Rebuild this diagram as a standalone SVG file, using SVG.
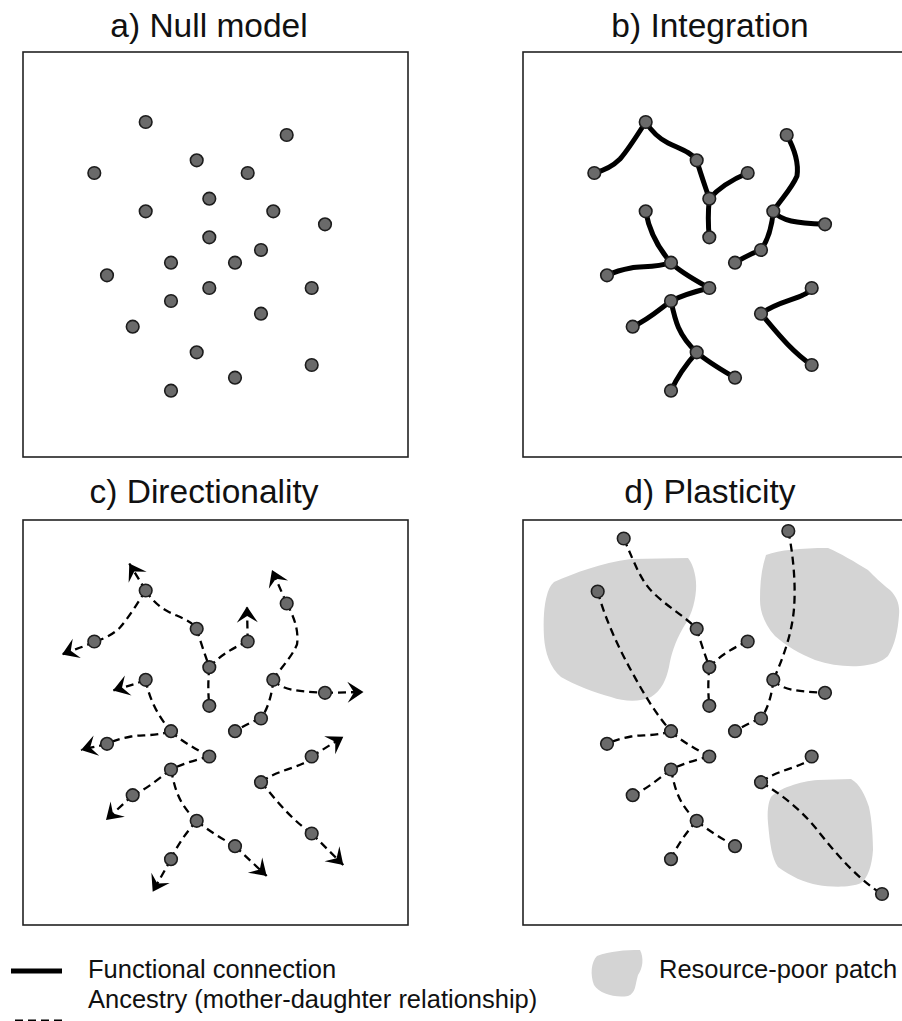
<svg xmlns="http://www.w3.org/2000/svg" width="902" height="1021" viewBox="0 0 902 1021">
<style>
.title{font-family:"Liberation Sans",Arial,sans-serif;font-size:33.5px;fill:#111;text-anchor:middle}
.leg{font-family:"Liberation Sans",Arial,sans-serif;font-size:25.5px;fill:#111}
.box{fill:none;stroke:#222;stroke-width:1.6}
.n{fill:#6a6a6a;stroke:#1c1c1c;stroke-width:1.6}
.fc{fill:none;stroke:#000;stroke-width:5;stroke-linecap:round;stroke-linejoin:round}
.an{fill:none;stroke:#000;stroke-width:2.3;stroke-dasharray:8 5}
.ar{marker-end:url(#arr)}
.patch{fill:#d4d4d4}
</style>
<defs>
<marker id="arr" markerUnits="userSpaceOnUse" markerWidth="24" markerHeight="24" viewBox="-19 -12 22 24" refX="0" refY="0" orient="auto">
<path d="M0,0 L-16,-10.5 L-9.5,0 L-16,10.5 Z" fill="#000"/>
</marker>
</defs>
<rect width="902" height="1021" fill="#fff"/>

<!-- Titles -->
<text class="title" x="209" y="37">a) Null model</text>
<text class="title" x="710" y="37">b) Integration</text>
<text class="title" x="204" y="503">c) Directionality</text>
<text class="title" x="710" y="503">d) Plasticity</text>

<!-- Panel a -->
<g id="panel-a">
<rect class="box" x="23" y="52" width="385" height="405"/>
<g id="a-A"><circle class="n" cx="145.7" cy="122" r="6.3"/></g>
<g id="a-G"><circle class="n" cx="286.7" cy="135" r="6.3"/></g>
<g id="a-C"><circle class="n" cx="196.7" cy="160.3" r="6.3"/></g>
<g id="a-B"><circle class="n" cx="94.3" cy="173" r="6.3"/></g>
<g id="a-E"><circle class="n" cx="247.7" cy="173" r="6.3"/></g>
<g id="a-D"><circle class="n" cx="209.3" cy="198.7" r="6.3"/></g>
<g id="a-L"><circle class="n" cx="145.7" cy="211.3" r="6.3"/></g>
<g id="a-H"><circle class="n" cx="273.3" cy="211.3" r="6.3"/></g>
<g id="a-I"><circle class="n" cx="325" cy="224.3" r="6.3"/></g>
<g id="a-F"><circle class="n" cx="209.3" cy="237.3" r="6.3"/></g>
<g id="a-J"><circle class="n" cx="261" cy="250" r="6.3"/></g>
<g id="a-M"><circle class="n" cx="171" cy="262.7" r="6.3"/></g>
<g id="a-K"><circle class="n" cx="235" cy="262.7" r="6.3"/></g>
<g id="a-N"><circle class="n" cx="107" cy="275.3" r="6.3"/></g>
<g id="a-O"><circle class="n" cx="209.3" cy="288" r="6.3"/></g>
<g id="a-V"><circle class="n" cx="311.7" cy="288" r="6.3"/></g>
<g id="a-P"><circle class="n" cx="171" cy="301" r="6.3"/></g>
<g id="a-U"><circle class="n" cx="261" cy="313.7" r="6.3"/></g>
<g id="a-Q"><circle class="n" cx="132.7" cy="326.7" r="6.3"/></g>
<g id="a-R"><circle class="n" cx="196.7" cy="352.3" r="6.3"/></g>
<g id="a-W"><circle class="n" cx="311.7" cy="365" r="6.3"/></g>
<g id="a-T"><circle class="n" cx="235" cy="377.7" r="6.3"/></g>
<g id="a-S"><circle class="n" cx="171" cy="390.7" r="6.3"/></g>
</g>

<!-- Panel b -->
<g id="panel-b">
<rect class="box" x="523" y="52" width="385" height="405"/>
<g transform="translate(500,0)">
<g id="b-connectors" class="fc">
<path d="M145.7,122 C138,134 128,150 120,159 C112,167 102,171 94.3,173"/>
<path d="M145.7,122 C152,132 160,139 168,143 C180,149 191,152 196.7,160.3"/>
<path d="M196.7,160.3 C200,172 205,186 209.3,198.7"/>
<path d="M209.3,198.7 C218,189 231,180 247.7,173"/>
<path d="M209.3,198.7 C208,212 208,225 209.3,237.3"/>
<path d="M286.7,135 C294,148 299,162 297,176 C291,190 280,200 273.3,211.3"/>
<path d="M273.3,211.3 C281,221 296,223 325,224.3"/>
<path d="M273.3,211.3 C272,226 268,240 261,250"/>
<path d="M261,250 C252,253 243,258 235,262.7"/>
<path d="M145.7,211.3 C149,230 158,248 171,262.7"/>
<path d="M171,262.7 C155,268 142,266 131,268 C120,270 112,273 107,275.3"/>
<path d="M171,262.7 C180,272 195,280 209.3,288"/>
<path d="M209.3,288 C197,291 183,295 171,301"/>
<path d="M171,301 C160,309 148,320 132.7,326.7"/>
<path d="M171,301 C175,320 178,335 196.7,352.3"/>
<path d="M196.7,352.3 C188,362 178,375 171,390.7"/>
<path d="M196.7,352.3 C208,362 222,370 235,377.7"/>
<path d="M261,313.7 C275,303 293,300 303,295 C308,293 310,291 311.7,288"/>
<path d="M261,313.7 C275,330 290,350 311.7,365"/>
</g>
<g id="b-A"><circle class="n" cx="145.7" cy="122" r="6.3"/></g>
<g id="b-G"><circle class="n" cx="286.7" cy="135" r="6.3"/></g>
<g id="b-C"><circle class="n" cx="196.7" cy="160.3" r="6.3"/></g>
<g id="b-B"><circle class="n" cx="94.3" cy="173" r="6.3"/></g>
<g id="b-E"><circle class="n" cx="247.7" cy="173" r="6.3"/></g>
<g id="b-D"><circle class="n" cx="209.3" cy="198.7" r="6.3"/></g>
<g id="b-L"><circle class="n" cx="145.7" cy="211.3" r="6.3"/></g>
<g id="b-H"><circle class="n" cx="273.3" cy="211.3" r="6.3"/></g>
<g id="b-I"><circle class="n" cx="325" cy="224.3" r="6.3"/></g>
<g id="b-F"><circle class="n" cx="209.3" cy="237.3" r="6.3"/></g>
<g id="b-J"><circle class="n" cx="261" cy="250" r="6.3"/></g>
<g id="b-M"><circle class="n" cx="171" cy="262.7" r="6.3"/></g>
<g id="b-K"><circle class="n" cx="235" cy="262.7" r="6.3"/></g>
<g id="b-N"><circle class="n" cx="107" cy="275.3" r="6.3"/></g>
<g id="b-O"><circle class="n" cx="209.3" cy="288" r="6.3"/></g>
<g id="b-V"><circle class="n" cx="311.7" cy="288" r="6.3"/></g>
<g id="b-P"><circle class="n" cx="171" cy="301" r="6.3"/></g>
<g id="b-U"><circle class="n" cx="261" cy="313.7" r="6.3"/></g>
<g id="b-Q"><circle class="n" cx="132.7" cy="326.7" r="6.3"/></g>
<g id="b-R"><circle class="n" cx="196.7" cy="352.3" r="6.3"/></g>
<g id="b-W"><circle class="n" cx="311.7" cy="365" r="6.3"/></g>
<g id="b-T"><circle class="n" cx="235" cy="377.7" r="6.3"/></g>
<g id="b-S"><circle class="n" cx="171" cy="390.7" r="6.3"/></g>
</g>
</g>

<!-- Panel c -->
<g id="panel-c">
<rect class="box" x="23" y="520" width="385" height="405"/>
<g transform="translate(0,468.5)">
<g id="c-connectors" class="an">
<path d="M145.7,122 C138,134 128,150 120,159 C112,167 102,171 94.3,173"/>
<path d="M145.7,122 C152,132 160,139 168,143 C180,149 191,152 196.7,160.3"/>
<path d="M196.7,160.3 C200,172 205,186 209.3,198.7"/>
<path d="M209.3,198.7 C218,189 231,180 247.7,173"/>
<path d="M209.3,198.7 C208,212 208,225 209.3,237.3"/>
<path d="M286.7,135 C294,148 299,162 297,176 C291,190 280,200 273.3,211.3"/>
<path d="M273.3,211.3 C281,221 296,223 325,224.3"/>
<path d="M273.3,211.3 C272,226 268,240 261,250"/>
<path d="M261,250 C252,253 243,258 235,262.7"/>
<path d="M145.7,211.3 C149,230 158,248 171,262.7"/>
<path d="M171,262.7 C155,268 142,266 131,268 C120,270 112,273 107,275.3"/>
<path d="M171,262.7 C180,272 195,280 209.3,288"/>
<path d="M209.3,288 C197,291 183,295 171,301"/>
<path d="M171,301 C160,309 148,320 132.7,326.7"/>
<path d="M171,301 C175,320 178,335 196.7,352.3"/>
<path d="M196.7,352.3 C188,362 178,375 171,390.7"/>
<path d="M196.7,352.3 C208,362 222,370 235,377.7"/>
<path d="M261,313.7 C275,303 293,300 303,295 C308,293 310,291 311.7,288"/>
<path d="M261,313.7 C275,330 290,350 311.7,365"/>
<path class="ar" d="M145.7,122 L129.3,95"/>
<path class="ar" d="M94.3,173 C85,178 74,181 62,186"/>
<path class="ar" d="M247.7,173 L247,138"/>
<path class="ar" d="M286.7,135 L272,101.5"/>
<path class="ar" d="M325,224.3 L363.5,223.5"/>
<path class="ar" d="M145.7,211.3 C135,216 125,218 113,222"/>
<path class="ar" d="M107,275.3 C98,278 90,279 81,281.5"/>
<path class="ar" d="M311.7,288 L343.3,268.3"/>
<path class="ar" d="M132.7,326.7 L106,351.5"/>
<path class="ar" d="M171,390.7 L152.7,423.3"/>
<path class="ar" d="M235,377.7 L266.7,407.5"/>
<path class="ar" d="M311.7,365 L343.3,396.5"/>
</g>
<g id="c-A"><circle class="n" cx="145.7" cy="122" r="6.3"/></g>
<g id="c-G"><circle class="n" cx="286.7" cy="135" r="6.3"/></g>
<g id="c-C"><circle class="n" cx="196.7" cy="160.3" r="6.3"/></g>
<g id="c-B"><circle class="n" cx="94.3" cy="173" r="6.3"/></g>
<g id="c-E"><circle class="n" cx="247.7" cy="173" r="6.3"/></g>
<g id="c-D"><circle class="n" cx="209.3" cy="198.7" r="6.3"/></g>
<g id="c-L"><circle class="n" cx="145.7" cy="211.3" r="6.3"/></g>
<g id="c-H"><circle class="n" cx="273.3" cy="211.3" r="6.3"/></g>
<g id="c-I"><circle class="n" cx="325" cy="224.3" r="6.3"/></g>
<g id="c-F"><circle class="n" cx="209.3" cy="237.3" r="6.3"/></g>
<g id="c-J"><circle class="n" cx="261" cy="250" r="6.3"/></g>
<g id="c-M"><circle class="n" cx="171" cy="262.7" r="6.3"/></g>
<g id="c-K"><circle class="n" cx="235" cy="262.7" r="6.3"/></g>
<g id="c-N"><circle class="n" cx="107" cy="275.3" r="6.3"/></g>
<g id="c-O"><circle class="n" cx="209.3" cy="288" r="6.3"/></g>
<g id="c-V"><circle class="n" cx="311.7" cy="288" r="6.3"/></g>
<g id="c-P"><circle class="n" cx="171" cy="301" r="6.3"/></g>
<g id="c-U"><circle class="n" cx="261" cy="313.7" r="6.3"/></g>
<g id="c-Q"><circle class="n" cx="132.7" cy="326.7" r="6.3"/></g>
<g id="c-R"><circle class="n" cx="196.7" cy="352.3" r="6.3"/></g>
<g id="c-W"><circle class="n" cx="311.7" cy="365" r="6.3"/></g>
<g id="c-T"><circle class="n" cx="235" cy="377.7" r="6.3"/></g>
<g id="c-S"><circle class="n" cx="171" cy="390.7" r="6.3"/></g>
</g>
</g>

<!-- Panel d -->
<g id="panel-d">
<g id="d-patches">
<path class="patch" d="M554,582 C575,573 600,563 631,559 L688,558 C694,565 697,580 696,590 C695,605 690,618 683,628 C675,642 671,655 669,667 C666,680 662,690 651,697 C640,702 625,702 611,697 C595,693 575,685 561,677 C550,668 545,652 544,637 C543,620 544,605 547,595 C549,588 551,585 554,582 Z"/>
<path class="patch" d="M766,555 C780,550 800,548 828,548 C840,553 855,562 868,570 C875,577 880,582 890,590 C897,597 900,605 899,615 C898,630 895,645 888,656 C882,662 872,665 860,666 C845,667 830,665 815,660 C800,654 785,645 775,636 C765,625 760,612 760,600 C760,585 761,570 766,555 Z"/>
<path class="patch" d="M771,797 C778,789 800,781 818,780 L851,779 C860,784 865,795 869,807 C872,820 873,840 873,850 C872,865 868,878 861,883 C850,888 830,887 818,885 C805,883 790,876 778,867 C772,858 770,845 768,823 C767,812 768,803 771,797 Z"/>
</g>
<rect class="box" x="523" y="520" width="385" height="405"/>
<g transform="translate(500,468.5)">
<g id="d-connectors" class="an">
<path d="M123.7,70 C135,95 140,112 155,126 C170,140 185,148 196.7,160.3"/>
<path d="M196.7,160.3 C200,172 205,186 209.3,198.7"/>
<path d="M209.3,198.7 C218,189 231,180 247.7,173"/>
<path d="M209.3,198.7 C208,212 208,225 209.3,237.3"/>
<path d="M288.3,62.5 C293,85 296,115 294,140 C292,165 283,190 273.3,211.3"/>
<path d="M273.3,211.3 C281,221 296,223 325,224.3"/>
<path d="M273.3,211.3 C272,226 268,240 261,250"/>
<path d="M261,250 C252,253 243,258 235,262.7"/>
<path d="M97.7,123 C105,150 118,178 130,200 C142,222 155,245 171,262.7"/>
<path d="M171,262.7 C155,268 142,266 131,268 C120,270 112,273 107,275.3"/>
<path d="M171,262.7 C180,272 195,280 209.3,288"/>
<path d="M209.3,288 C197,291 183,295 171,301"/>
<path d="M171,301 C160,309 148,320 132.7,326.7"/>
<path d="M171,301 C175,320 178,335 196.7,352.3"/>
<path d="M196.7,352.3 C188,362 178,375 171,390.7"/>
<path d="M196.7,352.3 C208,362 222,370 235,377.7"/>
<path d="M261,313.7 C275,303 293,300 303,295 C308,293 310,291 311.7,288"/>
<path d="M261,313.7 C285,328 305,345 320,365 C340,390 360,412 382,425.5"/>
</g>
<g id="d-A"><circle class="n" cx="123.7" cy="70" r="6.3"/></g>
<g id="d-G"><circle class="n" cx="288.3" cy="62.5" r="6.3"/></g>
<g id="d-L"><circle class="n" cx="97.7" cy="123" r="6.3"/></g>
<g id="d-C"><circle class="n" cx="196.7" cy="160.3" r="6.3"/></g>
<g id="d-E"><circle class="n" cx="247.7" cy="173" r="6.3"/></g>
<g id="d-D"><circle class="n" cx="209.3" cy="198.7" r="6.3"/></g>
<g id="d-H"><circle class="n" cx="273.3" cy="211.3" r="6.3"/></g>
<g id="d-I"><circle class="n" cx="325" cy="224.3" r="6.3"/></g>
<g id="d-F"><circle class="n" cx="209.3" cy="237.3" r="6.3"/></g>
<g id="d-J"><circle class="n" cx="261" cy="250" r="6.3"/></g>
<g id="d-M"><circle class="n" cx="171" cy="262.7" r="6.3"/></g>
<g id="d-K"><circle class="n" cx="235" cy="262.7" r="6.3"/></g>
<g id="d-N"><circle class="n" cx="107" cy="275.3" r="6.3"/></g>
<g id="d-O"><circle class="n" cx="209.3" cy="288" r="6.3"/></g>
<g id="d-V"><circle class="n" cx="311.7" cy="288" r="6.3"/></g>
<g id="d-P"><circle class="n" cx="171" cy="301" r="6.3"/></g>
<g id="d-U"><circle class="n" cx="261" cy="313.7" r="6.3"/></g>
<g id="d-Q"><circle class="n" cx="132.7" cy="326.7" r="6.3"/></g>
<g id="d-R"><circle class="n" cx="196.7" cy="352.3" r="6.3"/></g>
<g id="d-T"><circle class="n" cx="235" cy="377.7" r="6.3"/></g>
<g id="d-S"><circle class="n" cx="171" cy="390.7" r="6.3"/></g>
<g id="d-W"><circle class="n" cx="382" cy="425.5" r="6.3"/></g>
</g>
</g>

<!-- Legend -->
<g id="legend">
<line x1="11" y1="971" x2="62" y2="971" stroke="#000" stroke-width="5"/>
<text class="leg" x="88" y="978">Functional connection</text>
<text class="leg" x="88" y="1008">Ancestry (mother-daughter relationship)</text>
<line class="an" x1="15" y1="1021" x2="62" y2="1021" style="stroke-width:3"/>
<path class="patch" d="M597,956 C610,951 625,950 640,950 C644,958 643,968 638,975 C635,985 636,993 628,996 C615,998 600,994 594,985 C590,975 591,962 597,956 Z"/>
<text class="leg" x="659" y="978">Resource-poor patch</text>
</g>
</svg>
